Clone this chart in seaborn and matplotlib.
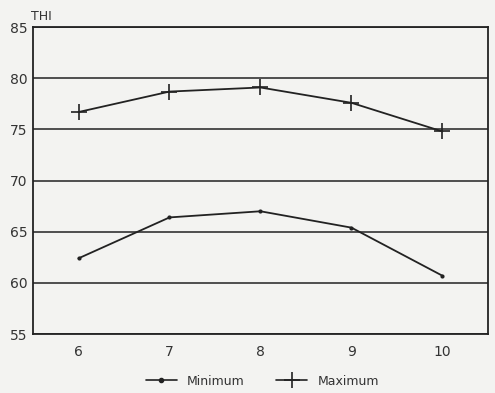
import pandas as pd
import matplotlib.pyplot as plt
import seaborn as sns
from matplotlib.lines import Line2D

# data
months = [6, 7, 8, 9, 10]
thi_min = [62.4, 66.4, 67.0, 65.4, 60.7]
thi_max = [76.7, 78.7, 79.1, 77.6, 74.8]

df_min = pd.DataFrame({'month': months, 'THI': thi_min})
df_max = pd.DataFrame({'month': months, 'THI': thi_max})

sns.set_theme(style="white")
plt.rcParams['font.family'] = ['DejaVu Sans']

ink = '#222222'
fig = plt.figure(figsize=(4.95, 3.93), dpi=100)
fig.patch.set_facecolor('#f3f3f1')
ax = fig.add_axes([0.0667, 0.150, 0.919, 0.781])
ax.set_facecolor('#f3f3f1')

sns.lineplot(data=df_min, x='month', y='THI', color=ink, marker='o',
             markersize=3, markeredgewidth=0, linewidth=1.3, ax=ax)
sns.lineplot(data=df_max, x='month', y='THI', color=ink, marker='+',
             markersize=11, markeredgewidth=1.2, markeredgecolor=ink,
             linewidth=1.3, ax=ax)

ax.set_xlim(5.5, 10.5)
ax.set_ylim(55, 85)
ax.set_xticks(months)
ax.set_yticks(range(55, 90, 5))
ax.yaxis.grid(True, color=ink, linewidth=1.1)
ax.set_axisbelow(True)
for s in ax.spines.values():
    s.set_color(ink)
    s.set_linewidth(1.3)

ax.tick_params(axis='x', direction='in', length=5, color=ink,
               labelsize=10, labelcolor='#333333', pad=8)
ax.tick_params(axis='y', length=0, labelsize=10, labelcolor='#333333', pad=4)
ax.set_xlabel('')
ax.set_ylabel('')
ax.text(-0.005, 1.015, 'THI', transform=ax.transAxes, fontsize=9,
        color='#333333', ha='left', va='bottom')

handles = [
    Line2D([], [], color=ink, marker='o', markersize=3, linewidth=1.2),
    Line2D([], [], color=ink, marker='+', markersize=11, markeredgewidth=1.2, linewidth=1.2),
]
fig.legend(handles, ['Minimum', 'Maximum'], loc='center', bbox_to_anchor=(0.53, 0.03),
           ncol=2, frameon=False, fontsize=9, handlelength=2.5, columnspacing=2.5,
           labelcolor='#333333')

plt.savefig('out.png', facecolor=fig.get_facecolor())
plt.close()
